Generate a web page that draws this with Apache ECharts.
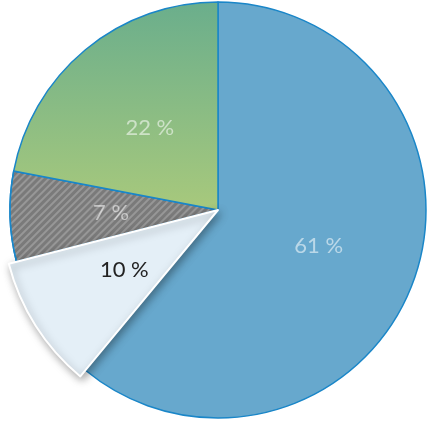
<!DOCTYPE html>
<html><head><meta charset="utf-8">
<script src="https://cdn.jsdelivr.net/npm/echarts@6/dist/echarts.min.js"></script>
<style>html,body{margin:0;background:#fff}#main{width:434px;height:428px}</style>
</head><body><div id="main"></div>
<script>
var names = ['A', 'B', 'C', 'D'];
var values = [61, 10, 7, 22];
var highlighted = 1;

var chart = echarts.init(document.getElementById('main'));
var blue = '#1a86c8';
var styles = [
  { color: '#67a8cd', borderColor: blue, borderWidth: 1.5 },
  { color: '#e4eff7', borderColor: '#fff', borderWidth: 2, shadowBlur: 8, shadowColor: 'rgba(0,0,0,0.35)', shadowOffsetX: 2, shadowOffsetY: 3 },
  { color: '#7a7a7a', borderColor: blue, borderWidth: 1.5,
    decal: { symbol: 'rect', color: 'rgba(255,255,255,0.22)', dashArrayX: [1, 0], dashArrayY: [2, 3], rotation: -Math.PI / 4 } },
  { color: new echarts.graphic.LinearGradient(0, 0, 0, 1, [{ offset: 0, color: '#6aae8c' }, { offset: 1, color: '#a8c97c' }]),
    borderColor: blue, borderWidth: 1.5 }
];
var labelStyle = { color: 'rgba(255,255,255,0.55)', fontSize: 22, fontFamily: 'Lato' };

function makeData(only) {
  return names.map(function (n, i) {
    var hidden = only !== undefined && i !== only;
    var dark = i === highlighted;
    return {
      name: n, value: values[i],
      itemStyle: hidden ? { color: 'transparent', borderWidth: 0 } : styles[i],
      label: hidden ? { show: false } : { show: true, color: dark ? '#222' : labelStyle.color }
    };
  });
}

var base = {
  type: 'pie', center: [218, 210], startAngle: 90, clockwise: true,
  silent: true, animation: false,
  label: { position: 'inside', formatter: '{c} %', fontSize: 22, fontFamily: 'Lato' },
  labelLine: { show: false }
};

chart.setOption({
  series: [
    Object.assign({}, base, { radius: [0, 208], data: makeData().map(function (d, i) {
      if (i === highlighted) { d.itemStyle = { color: 'transparent', borderWidth: 0 }; d.label = { show: false }; }
      return d;
    }) }),
    Object.assign({}, base, { radius: [0, 216], data: makeData(highlighted) })
  ]
});
</script></body></html>
